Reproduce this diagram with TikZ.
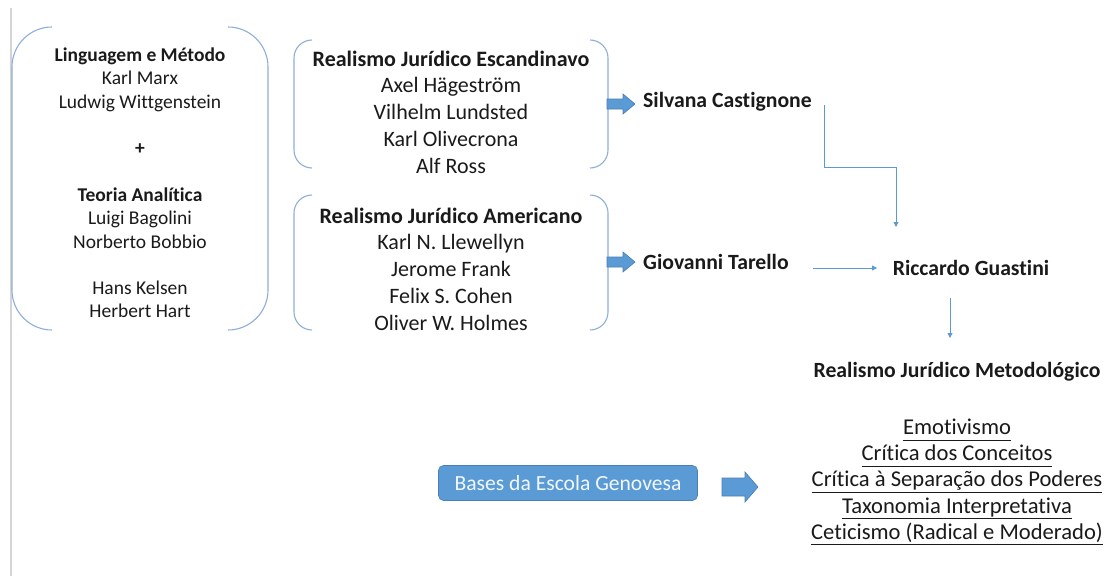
\documentclass[tikz,border=0pt]{standalone}
\usepackage{fontspec}
\setmainfont{Carlito}[Ligatures=NoCommon]
\usetikzlibrary{arrows.meta,calc}
\definecolor{brk}{HTML}{8EAFD8}
\definecolor{blu}{HTML}{5B9BD5}
\definecolor{bluedge}{HTML}{4A7EB5}
\definecolor{txt}{HTML}{1A1A1A}
\newcommand\ulx[1]{\underline{\vphantom{gy}#1}}
\begin{document}
\begin{tikzpicture}[x=1pt,y=-1pt,
  brkline/.style={draw=brk,line width=1.1pt},
  leftcol/.style={inner sep=0pt,align=center,text=txt,font=\fontsize{19.5}{23.3}\selectfont},
  midcol/.style={inner sep=0pt,align=center,text=txt,font=\fontsize{22}{26.75}\selectfont},
  namebox/.style={inner sep=0pt,text=txt,font=\fontsize{21.7}{26}\selectfont\bfseries},
  listbox/.style={inner sep=0pt,align=center,text=txt,font=\fontsize{22.6}{26.2}\selectfont},
  blockarrow/.style={fill=blu,draw=bluedge,line width=0.6pt},
  conn/.style={draw=blu,line width=0.8pt,-{Triangle[width=5pt,length=5pt]}},
  basebox/.style={fill=blu,draw=bluedge,line width=0.6pt,rounded corners=5pt,text=white!92!blu,
    minimum width=259pt,minimum height=35pt,inner sep=0pt,font=\fontsize{21.6}{24}\selectfont}]
\useasboundingbox (0,0) rectangle (1107,576);
\fill[white] (0,0) rectangle (1107,576);
% left gray rule
\draw[black!17,line width=1.1pt] (11,8) -- (11,576);

% brackets
\draw[brkline,rounded corners=40] (52,27) -- (12,27) -- (12,330) -- (52,330);
\draw[brkline,rounded corners=40] (228,27) -- (268,27) -- (268,330) -- (228,330);
\draw[brkline,rounded corners=18] (312,40) -- (294,40) -- (294,168) -- (312,168);
\draw[brkline,rounded corners=18] (590,40) -- (608,40) -- (608,168) -- (590,168);
\draw[brkline,rounded corners=18] (312,195) -- (294,195) -- (294,330) -- (312,330);
\draw[brkline,rounded corners=18] (590,195) -- (608,195) -- (608,330) -- (590,330);

% left column
\node[leftcol] (lm) at (140,183) {\textbf{Linguagem e Método}\\Karl Marx\\Ludwig Wittgenstein\\[23.3pt]
  \textbf{+}\\[23.3pt]\textbf{Teoria Analítica}\\Luigi Bagolini\\Norberto Bobbio\\[23.3pt]
  Hans Kelsen\\Herbert Hart};

% middle column
\node[midcol] (esc) at (451,112) {\textbf{Realismo Jurídico Escandinavo}\\Axel Hägeström\\Vilhelm Lundsted\\Karl Olivecrona\\Alf Ross};
\node[midcol] (ame) at (451,269) {\textbf{Realismo Jurídico Americano}\\Karl N. Llewellyn\\Jerome Frank\\Felix S. Cohen\\Oliver W. Holmes};

% block arrows
\path[blockarrow] (607,99) -- (623,99) -- (623,94) -- (635,104) -- (623,114) -- (623,109) -- (607,109) -- cycle;
\path[blockarrow] (607,257) -- (623,257) -- (623,252) -- (635,262) -- (623,272) -- (623,267) -- (607,267) -- cycle;
\path[blockarrow] (722,478) -- (745,478) -- (745,472) -- (758,487) -- (745,502) -- (745,496) -- (722,496) -- cycle;

% names
\node[namebox,anchor=west] (silv) at (643,102) {Silvana Castignone};
\node[namebox,anchor=west] (tar) at (643,262) {Giovanni Tarello};
\node[namebox] (gua) at (971,268) {Riccardo Guastini};
\node[namebox] (rjm) at (957,372) {Realismo Jurídico Metodológico};

% connectors
\coordinate (s1) at (824,105);
\coordinate (s2) at (896,227);
\coordinate (t1) at (813,268);
\coordinate (t2) at (877,268);
\coordinate (g1) at (950,298);
\coordinate (g2) at (950,338);
\draw[conn] (s1) -- (824,167) -| (s2);
\draw[conn] (t1) -- (t2);
\draw[conn] (g1) -- (g2);

% bases box
\node[basebox] (bases) at (568,483) {Bases da Escola Genovesa};

% list
\node[listbox] (lst) at (957,482) {\ulx{Emotivismo}\\\ulx{Crítica dos Conceitos}\\\ulx{Crítica à Separação dos Poderes}\\\ulx{Taxonomia Interpretativa}\\\ulx{Ceticismo (Radical e Moderado)}};
\end{tikzpicture}
\end{document}
